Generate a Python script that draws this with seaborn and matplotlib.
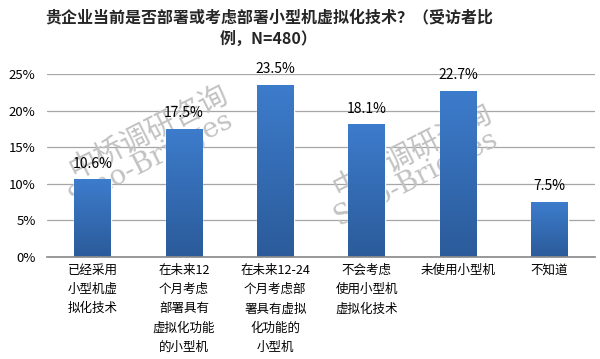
import matplotlib
matplotlib.use("Agg")
import matplotlib.pyplot as plt
import seaborn as sns
import numpy as np
import pandas as pd
from matplotlib.ticker import FuncFormatter
from matplotlib.colors import LinearSegmentedColormap

categories = ["已经采用\n小型机虚\n拟化技术",
              "在未来12\n个月考虑\n部署具有\n虚拟化功能\n的小型机",
              "在未来12-24\n个月考虑部\n署具有虚拟\n化功能的\n小型机",
              "不会考虑\n使用小型机\n虚拟化技术",
              "未使用小型机",
              "不知道"]
values = [10.6, 17.5, 23.5, 18.1, 22.7, 7.5]
yticks = [0, 5, 10, 15, 20, 25]
title = "贵企业当前是否部署或考虑部署小型机虚拟化技术？（受访者比\n例，N=480）"
watermark_cn = "中桥调研咨询"
watermark_en = "Sino-Bridges"

sns.set_theme(style="white")
plt.rcParams['font.family'] = ['Noto Sans CJK SC', 'DejaVu Sans']

fig = plt.figure(figsize=(6.0, 3.59), dpi=100)
ax = fig.add_axes([0.078, 0.284, 0.914, 0.51])

df = pd.DataFrame({"cat": categories, "val": values})
sns.barplot(data=df, x="cat", y="val", ax=ax, color="#3a72be", width=0.4, saturation=1)

ax.set_ylim(0, 25)
ax.set_xlim(-0.5, len(categories) - 0.5)
ax.set_yticks(yticks)
ax.yaxis.set_major_formatter(FuncFormatter(lambda v, p: f"{int(v)}%"))
ax.grid(axis="y", color="#a6a6a6", linewidth=0.9)
ax.set_axisbelow(True)
for s in ["top", "right", "left"]:
    ax.spines[s].set_visible(False)
ax.spines["bottom"].set_color("#8c8c8c")
ax.set_xlabel("")
ax.set_ylabel("")
ax.tick_params(axis="y", labelsize=9.5, length=0, pad=8, colors="black")
ax.tick_params(axis="x", labelsize=9, length=0, pad=5, colors="black")
for t in ax.get_xticklabels():
    t.set_linespacing(1.62)
    t.set_verticalalignment("top")
ax.set_xticks(np.arange(-0.5, len(categories)), minor=True)
ax.tick_params(axis="x", which="minor", length=4, color="#8c8c8c", direction="out")

# gradient fill on bars
grad = np.linspace(0, 1, 256).reshape(-1, 1)
cmap = LinearSegmentedColormap.from_list("g", ["#2b5b9a", "#3d7ccc"])
for p in ax.patches:
    x0, y0 = p.get_x(), p.get_y()
    w, h = p.get_width(), p.get_height()
    im = ax.imshow(grad, extent=[x0, x0 + w, y0, y0 + h], origin="lower",
                   aspect="auto", cmap=cmap, zorder=p.get_zorder() + 0.1)
    im.set_clip_path(p)
    ax.text(x0 + w / 2, y0 + h + 1.2, f"{h:.1f}%", ha="center", va="bottom",
            fontsize=10, color="black")
ax.set_xlim(-0.5, len(categories) - 0.5)
ax.set_ylim(0, 25)

fig.text(0.448, 0.975, title, ha="center", va="top", fontsize=11.5,
         fontweight="bold", linespacing=1.45)

# watermark (behind bars)
wm = dict(color="#c2c2c2", rotation=27, ha="center", va="center",
          transform=fig.transFigure, zorder=0.8)
for (cx, cy), (ex, ey) in [((0.247, 0.632), (0.252, 0.557)),
                           ((0.688, 0.579), (0.693, 0.504))]:
    ax.text(cx, cy, watermark_cn, fontsize=21, **wm)
    ax.text(ex, ey, watermark_en, fontsize=20, family="DejaVu Serif", **wm)

fig.savefig("out.png", dpi=100)
